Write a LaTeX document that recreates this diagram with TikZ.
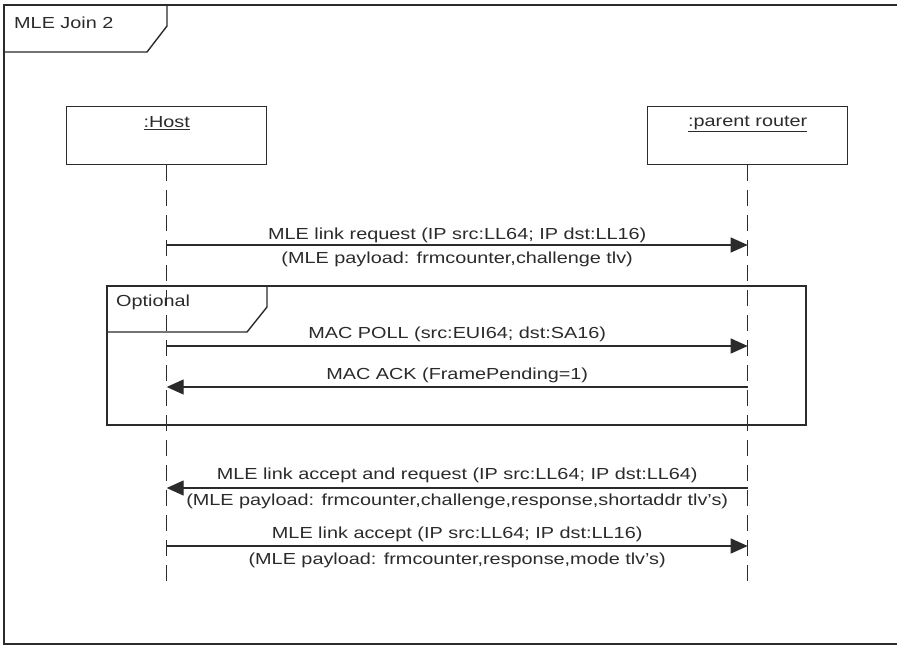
\documentclass[tikz,border=0pt]{standalone}
\usepackage{fontspec}
\setmainfont{Liberation Sans}[FakeStretch=1.24]
\usetikzlibrary{arrows.meta,calc}
\definecolor{ink}{HTML}{2B2B2B}
\tikzset{
  frameline/.style={draw=ink, line width=1.4pt},
  objbox/.style={draw=ink, line width=1.4pt, minimum width=200pt, minimum height=58pt, inner sep=0pt},
  lifeline/.style={draw=ink, line width=1.4pt, dash pattern=on 16pt off 9pt},
  msg/.style={draw=ink, line width=1.3pt, -{Triangle[length=17pt,width=15pt]}},
  lbl/.style={text=ink, font=\fontsize{16}{18}\selectfont, inner sep=0pt},
}
\begin{document}
\begin{tikzpicture}[x=1pt,y=-1pt]
\useasboundingbox (0,0) rectangle (897,646);
\fill[white] (0,0) rectangle (897,646);

% outer diagram frame and its title tab
\draw[frameline] (904,5) -- (4,5) -- (4,644) -- (904,644);
\draw[frameline] (167,5) -- (167,26) -- (147,52) -- (4,52);
\node[lbl, anchor=west] (title) at (14,23) {MLE Join 2};

% participants
\node[objbox, anchor=north west] (host) at (66,106) {};
\node[lbl, anchor=north] (hostname) at ([yshift=-10pt]host.north) {\underline{:Host}};
\node[objbox, anchor=north west] (router) at (647,106) {};
\node[lbl, anchor=north] (routername) at ([yshift=-10pt]router.north) {\underline{:parent router}};

% lifelines
\coordinate (hostend) at (host.south |- 0,590);
\coordinate (routerend) at (router.south |- 0,590);
\draw[lifeline] (host.south) -- (hostend);
\draw[lifeline] (router.south) -- (routerend);

% anchor points on the lifelines
\coordinate (h1) at (host.south |- 0,245);
\coordinate (r1) at (router.south |- 0,245);
\coordinate (h2) at (host.south |- 0,346);
\coordinate (r2) at (router.south |- 0,346);
\coordinate (h3) at (host.south |- 0,387);
\coordinate (r3) at (router.south |- 0,387);
\coordinate (h4) at (host.south |- 0,488);
\coordinate (r4) at (router.south |- 0,488);
\coordinate (h5) at (host.south |- 0,546);
\coordinate (r5) at (router.south |- 0,546);

% link request
\draw[msg] (h1) -- (r1);
\node[lbl] (m1a) at ($(h1)!0.5!(r1)+(0,-10)$) {MLE link request (IP src:LL64; IP dst:LL16)};
\node[lbl] (m1b) at ($(h1)!0.5!(r1)+(0,14)$) {(MLE payload: frmcounter,challenge tlv)};

% optional fragment
\draw[frameline] (107,286) rectangle (806,425);
\draw[frameline] (267,286) -- (267,307) -- (247,332) -- (107,332);
\node[lbl, anchor=west] (opt) at (116,302) {Optional};

\draw[msg] (h2) -- (r2);
\node[lbl] (m2) at ($(h2)!0.5!(r2)+(0,-12)$) {MAC POLL (src:EUI64; dst:SA16)};
\draw[msg] (r3) -- (h3);
\node[lbl] (m3) at ($(h3)!0.5!(r3)+(0,-12)$) {MAC ACK (FramePending=1)};

% accept and request
\draw[msg] (r4) -- (h4);
\node[lbl] (m4a) at ($(h4)!0.5!(r4)+(0,-13)$) {MLE link accept and request (IP src:LL64; IP dst:LL64)};
\node[lbl] (m4b) at ($(h4)!0.5!(r4)+(0,13)$) {(MLE payload: frmcounter,challenge,response,shortaddr tlv's)};

% accept
\draw[msg] (h5) -- (r5);
\node[lbl] (m5a) at ($(h5)!0.5!(r5)+(0,-12)$) {MLE link accept (IP src:LL64; IP dst:LL16)};
\node[lbl] (m5b) at ($(h5)!0.5!(r5)+(0,14)$) {(MLE payload: frmcounter,response,mode tlv's)};
\end{tikzpicture}
\end{document}
